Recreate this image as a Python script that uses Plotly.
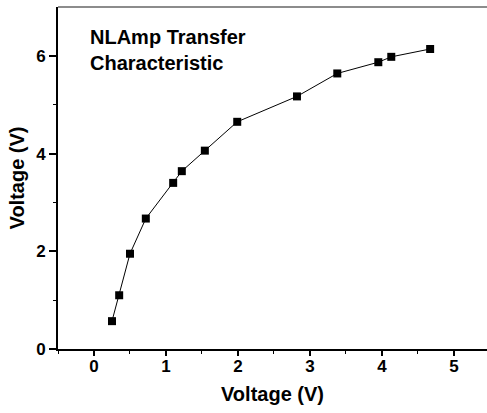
import plotly.graph_objects as go

vin = [0.25, 0.35, 0.50, 0.72, 1.10, 1.22, 1.54, 1.99, 2.82, 3.38, 3.95, 4.13, 4.67]
vout = [0.57, 1.10, 1.95, 2.67, 3.40, 3.64, 4.06, 4.65, 5.17, 5.64, 5.87, 5.98, 6.14]

x_ticks = [0, 1, 2, 3, 4, 5]
y_ticks = [0, 2, 4, 6]
x_minor = [-0.5, 0.5, 1.5, 2.5, 3.5, 4.5]
y_minor = [1, 3, 5]

title_text = "NLAmp Transfer<br>Characteristic"
x_title = "Voltage (V)"
y_title = "Voltage (V)"

FONT = "Liberation Sans, Arial, sans-serif"

fig = go.Figure()
fig.add_trace(go.Scatter(
    x=vin, y=vout, mode="lines+markers",
    line=dict(color="black", width=1),
    marker=dict(symbol="square", size=8, color="black"),
    showlegend=False,
))

fig.update_layout(
    width=487, height=413,
    margin=dict(l=58, r=0, t=7, b=64),
    plot_bgcolor="white", paper_bgcolor="white",
    font=dict(family=FONT, color="black"),
    xaxis=dict(
        range=[-0.5, 5.46], tickvals=x_ticks, ticktext=["<b>%d</b>" % v for v in x_ticks],
        ticks="outside", ticklen=5, tickwidth=1.5, tickcolor="black",
        ticklabelstandoff=-4,
        minor=dict(tickvals=x_minor, ticks="outside", ticklen=3, tickwidth=1.2, tickcolor="black"),
        showline=True, linecolor="black", linewidth=2,
        showgrid=False, zeroline=False,
        tickfont=dict(size=17, family=FONT),
        title=dict(text="<b>" + x_title + "</b>", font=dict(size=20, family=FONT), standoff=12),
    ),
    yaxis=dict(
        range=[0, 7], tickvals=y_ticks, ticktext=["<b>%d</b>" % v for v in y_ticks],
        ticks="outside", ticklen=7, tickwidth=1.5, tickcolor="black",
        minor=dict(tickvals=y_minor, ticks="outside", ticklen=3, tickwidth=1.2, tickcolor="black"),
        showline=True, linecolor="black", linewidth=2,
        showgrid=False, zeroline=False,
        tickfont=dict(size=17, family=FONT),
        title=dict(text="<b>" + y_title + "</b>", font=dict(size=20, family=FONT), standoff=6),
    ),
    shapes=[dict(type="line", xref="paper", yref="paper", x0=0, x1=1, y0=1, y1=1,
                 line=dict(color="#666666", width=1.5))],
    annotations=[dict(
        text="<b>" + title_text + "</b>", xref="paper", yref="paper",
        x=0.07, y=0.95, xanchor="left", yanchor="top", align="left", showarrow=False,
        font=dict(size=20, family=FONT, color="black"),
    )],
)

fig.write_html("out.html")
